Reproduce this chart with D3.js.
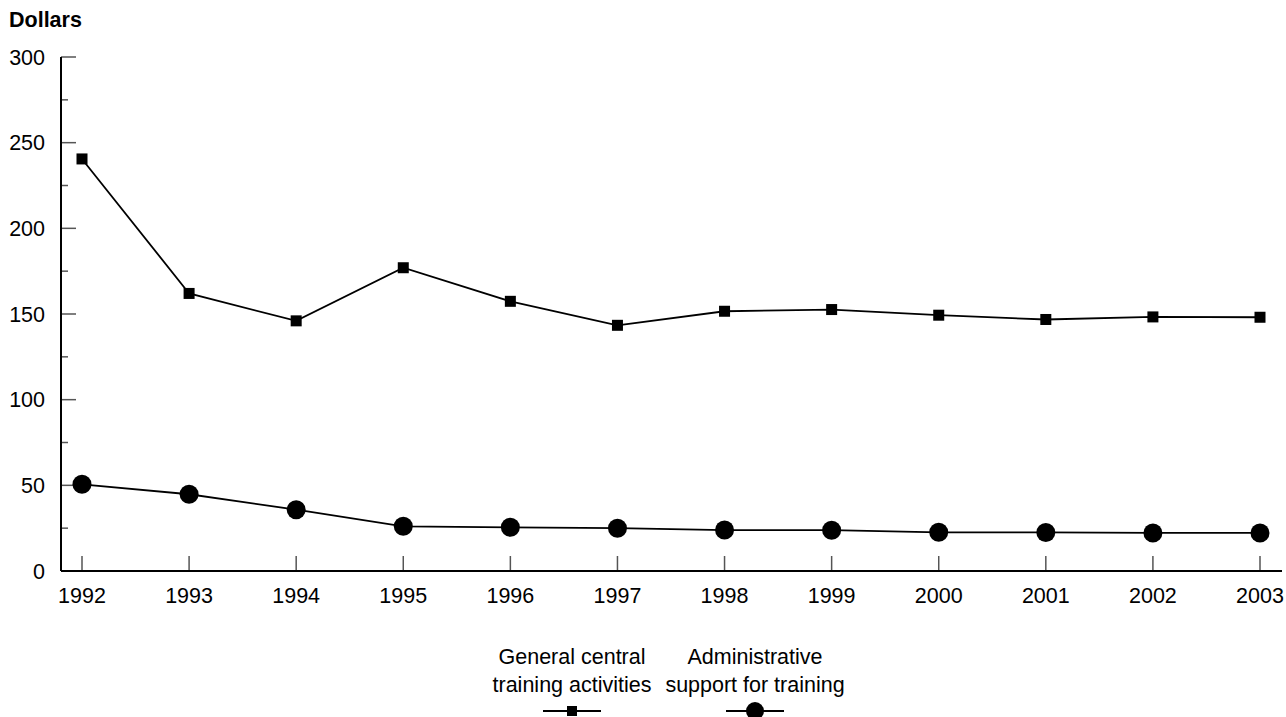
<!DOCTYPE html>
<html>
<head>
<meta charset="utf-8">
<script src="https://cdn.jsdelivr.net/npm/d3@7"></script>
<style>
  body { margin: 0; background: #fff; }
  svg text { font-family: "Liberation Sans", Arial, sans-serif; fill: #000; }
</style>
</head>
<body>
<svg id="chart" width="1286" height="717"></svg>
<script>
var years = [1992, 1993, 1994, 1995, 1996, 1997, 1998, 1999, 2000, 2001, 2002, 2003];
var generalCentral = [240.5, 162, 146, 177, 157.4, 143.4, 151.6, 152.6, 149.3, 146.8, 148.3, 148.1];
var adminSupport = [50.6, 44.8, 35.8, 26.1, 25.5, 25.0, 23.9, 23.8, 22.6, 22.5, 22.2, 22.2];
var yMajorTicks = [0, 50, 100, 150, 200, 250, 300];
var yMinorTicks = [25, 75, 125, 175, 225, 275];
var legendLabels = [["General central", "training activities"], ["Administrative", "support for training"]];

var svg = d3.select("#chart");

var axisLeft = 61, axisBottom = 571, axisTop = 57, axisRight = 1282;
var fontSize = "21.5px";

var x = d3.scaleLinear()
	.domain([1992, 2003])
	.range([82, 1260]);

var y = d3.scaleLinear()
	.domain([0, 300])
	.range([axisBottom, axisTop]);

// y axis title
svg.append("text")
	.attr("x", 9)
	.attr("y", 27)
	.style("font-size", fontSize)
	.style("font-weight", "bold")
	.text("Dollars");

// y axis: ticks point inward
var gY = svg.append("g").attr("class", "axis axis--y");
gY.selectAll("line.major")
	.data(yMajorTicks)
	.enter().append("line")
	.attr("class", "major")
	.attr("x1", axisLeft).attr("x2", axisLeft + 15)
	.attr("y1", function(d){ return y(d); })
	.attr("y2", function(d){ return y(d); })
	.attr("stroke", "#555").attr("stroke-width", 1.5);
gY.selectAll("line.minor")
	.data(yMinorTicks)
	.enter().append("line")
	.attr("class", "minor")
	.attr("x1", axisLeft).attr("x2", axisLeft + 7)
	.attr("y1", function(d){ return y(d); })
	.attr("y2", function(d){ return y(d); })
	.attr("stroke", "#555").attr("stroke-width", 1.5);
gY.selectAll("text")
	.data(yMajorTicks)
	.enter().append("text")
	.attr("x", 45)
	.attr("y", function(d){ return y(d); })
	.attr("dy", "0.36em")
	.attr("text-anchor", "end")
	.style("font-size", fontSize)
	.text(function(d){ return d; });

// x axis: ticks point up
var gX = svg.append("g").attr("class", "axis axis--x");
gX.selectAll("line")
	.data(years)
	.enter().append("line")
	.attr("x1", function(d){ return x(d); })
	.attr("x2", function(d){ return x(d); })
	.attr("y1", axisBottom).attr("y2", axisBottom - 15)
	.attr("stroke", "#555").attr("stroke-width", 1.5);
gX.selectAll("text")
	.data(years)
	.enter().append("text")
	.attr("x", function(d){ return x(d); })
	.attr("y", 603)
	.attr("text-anchor", "middle")
	.style("font-size", fontSize)
	.text(function(d){ return d; });

// axis lines
svg.append("line")
	.attr("x1", axisLeft).attr("x2", axisLeft)
	.attr("y1", axisTop).attr("y2", axisBottom)
	.attr("stroke", "#000").attr("stroke-width", 2);
svg.append("line")
	.attr("x1", axisLeft).attr("x2", axisRight)
	.attr("y1", axisBottom).attr("y2", axisBottom)
	.attr("stroke", "#000").attr("stroke-width", 2);

var line = d3.line()
	.x(function(d, i){ return x(years[i]); })
	.y(function(d){ return y(d); });

// general central training
svg.append("path")
	.datum(generalCentral)
	.attr("d", line)
	.attr("fill", "none")
	.attr("stroke", "#000")
	.attr("stroke-width", 1.8);
svg.selectAll("rect.sq")
	.data(generalCentral)
	.enter().append("rect")
	.attr("class", "sq")
	.attr("x", function(d, i){ return x(years[i]) - 5.5; })
	.attr("y", function(d){ return y(d) - 5.5; })
	.attr("width", 11).attr("height", 11)
	.attr("fill", "#000");

// admin support
svg.append("path")
	.datum(adminSupport)
	.attr("d", line)
	.attr("fill", "none")
	.attr("stroke", "#000")
	.attr("stroke-width", 1.8);
svg.selectAll("circle.dot")
	.data(adminSupport)
	.enter().append("circle")
	.attr("class", "dot")
	.attr("cx", function(d, i){ return x(years[i]); })
	.attr("cy", function(d){ return y(d); })
	.attr("r", 9.5)
	.attr("fill", "#000");

// legend
var legendX = [572, 755];
var legend = svg.selectAll("g.legend")
	.data(legendLabels)
	.enter().append("g")
	.attr("class", "legend")
	.attr("transform", function(d, i){ return "translate(" + legendX[i] + ",0)"; });
legend.each(function(d, i){
	var g = d3.select(this);
	g.selectAll("text")
		.data(d)
		.enter().append("text")
		.attr("x", 0)
		.attr("y", function(t, j){ return 664 + j * 28; })
		.attr("text-anchor", "middle")
		.style("font-size", fontSize)
		.text(function(t){ return t; });
	g.append("line")
		.attr("x1", -29).attr("x2", 29)
		.attr("y1", 711).attr("y2", 711)
		.attr("stroke", "#000").attr("stroke-width", 2);
	if (i === 0) {
		g.append("rect")
			.attr("x", -5).attr("y", 706)
			.attr("width", 10).attr("height", 10)
			.attr("fill", "#000");
	} else {
		g.append("circle")
			.attr("cx", 0).attr("cy", 711)
			.attr("r", 9)
			.attr("fill", "#000");
	}
});
</script>
</body>
</html>
